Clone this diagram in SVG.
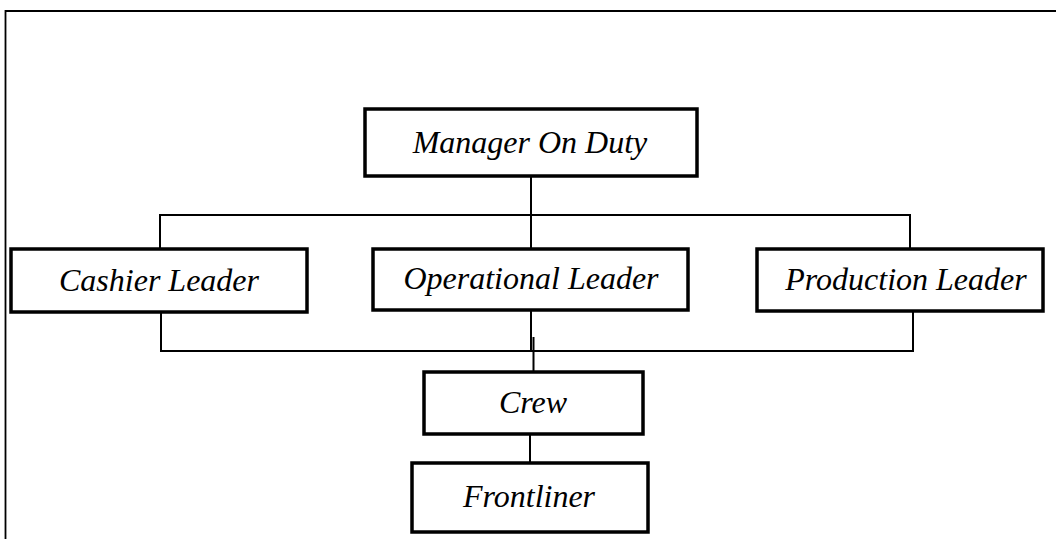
<svg xmlns="http://www.w3.org/2000/svg" width="1056" height="539" viewBox="0 0 1056 539">
<style>
.box{fill:#fff;stroke:#000;stroke-width:3.5}
.ln{fill:none;stroke:#000;stroke-width:2}
.t{font-family:"Liberation Serif","Times New Roman",serif;font-style:italic;font-size:32px;fill:#000;text-anchor:middle}
</style>
<rect width="1056" height="539" fill="#fff"/>
<path d="M5.5,539 V11 H1056" fill="none" stroke="#000" stroke-width="1.8"/>
<g id="connectors">
<path class="ln" d="M531,176 V215"/>
<path class="ln" d="M160,249 V215 H910 V249"/>
<path class="ln" d="M531,215 V249"/>
<path class="ln" d="M161,312 V351 H913 V311"/>
<path class="ln" d="M531,311 V351"/>
<path class="ln" d="M533.5,337 V372" stroke-width="3"/>
<path class="ln" d="M530,434 V463"/>
</g>
<g id="manager"><rect class="box" x="365" y="109" width="332" height="67"/><text class="t" x="530" y="153">Manager On Duty</text></g>
<g id="cashier"><rect class="box" x="11" y="249" width="296" height="63"/><text class="t" x="159" y="291">Cashier Leader</text></g>
<g id="operational"><rect class="box" x="373" y="249" width="315" height="61"/><text class="t" x="531" y="289">Operational Leader</text></g>
<g id="production"><rect class="box" x="757" y="249" width="286" height="62"/><text class="t" x="906" y="290">Production Leader</text></g>
<g id="crew"><rect class="box" x="424" y="372" width="219" height="62"/><text class="t" x="533" y="413">Crew</text></g>
<g id="frontliner"><rect class="box" x="412" y="463" width="236" height="69"/><text class="t" x="529" y="507">Frontliner</text></g>
</svg>
